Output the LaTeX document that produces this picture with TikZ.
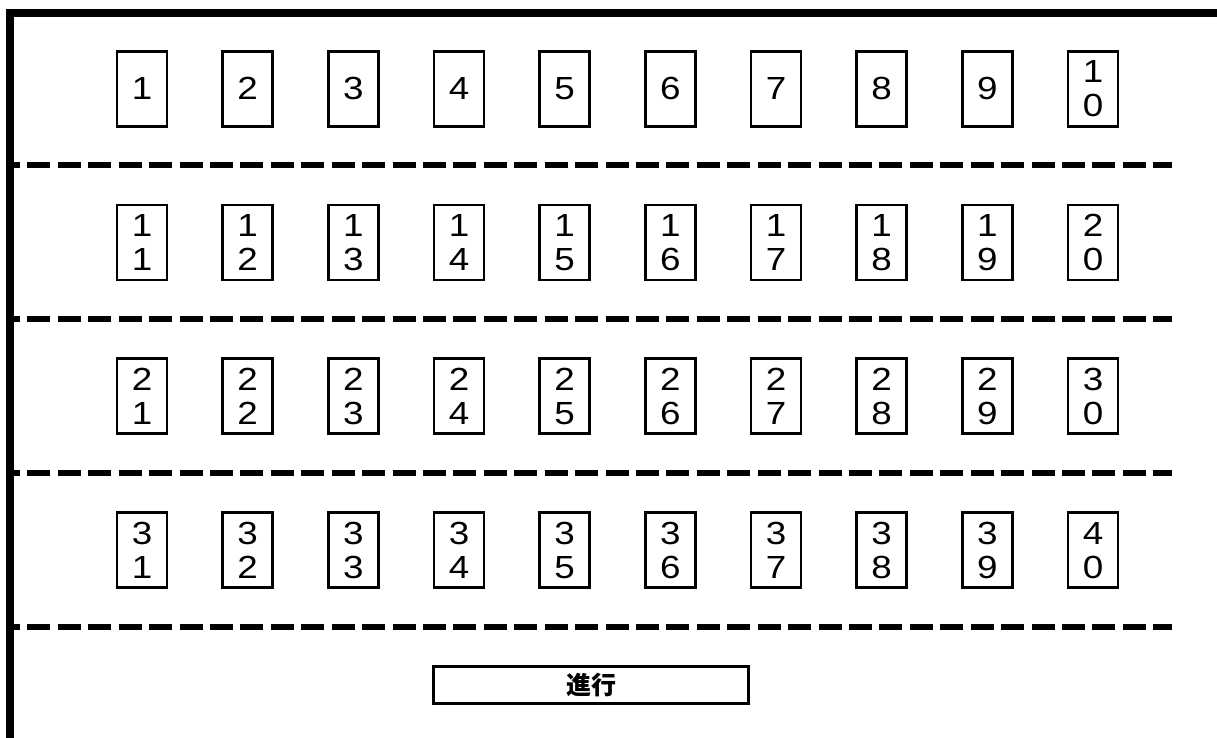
\documentclass[tikz,border=0pt]{standalone}
\usepackage{fontspec}
\newfontfamily\numfont[FakeStretch=1.15]{Liberation Sans}
\newfontfamily\jpfont{Noto Sans CJK JP}
\begin{document}
\begin{tikzpicture}[x=1pt,y=-1pt,
  seat/.style={draw,line width=2.8pt,minimum width=50pt,minimum height=75pt,inner sep=0pt,align=center,font=\numfont\fontsize{32}{34}\selectfont},
  divider/.style={line width=6pt,dash pattern=on 23pt off 7.43pt,dash phase=13pt},
  wall/.style={line width=8pt},
  progress/.style={draw,line width=2.8pt,minimum width=315pt,minimum height=37pt,inner sep=0pt,font=\jpfont\bfseries\fontsize{25}{25}\selectfont}]
\useasboundingbox (0,0) rectangle (1217,738);
\draw[wall] (10,738) -- (10,13) -- (1217,13);
\foreach \yy in {165.5,319.3,473.2,627}{
  \draw[divider] (10,\yy) -- (1172,\yy);
}
\foreach \r in {0,...,3}{
  \foreach \c in {0,...,9}{
    \pgfmathtruncatemacro\nn{10*\r+\c+1}
    \pgfmathtruncatemacro\tens{\nn/10}
    \pgfmathtruncatemacro\ones{\nn-10*\tens}
    \node[seat] (s\nn) at ({142+105.67*\c},{88.75+153.8*\r}) {\ifnum\nn<10 \nn\else\tens\\\ones\fi};
  }
}
\node[progress] (go) at (591,685) {進行};
\end{tikzpicture}
\end{document}
